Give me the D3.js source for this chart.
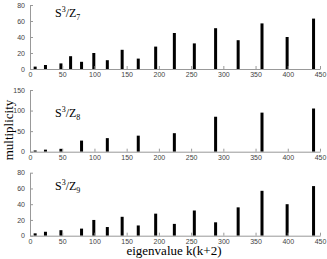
<!DOCTYPE html>
<html>
<head>
<meta charset="utf-8">
<script src="https://cdn.jsdelivr.net/npm/d3@7"></script>
<style>
  html, body { margin: 0; padding: 0; background: #fff; }
  svg { display: block; }
  .tick text { font-family: "Liberation Sans", Arial, sans-serif; font-size: 7px; fill: #444; }
  .domain, .tick line { stroke: #999; stroke-width: 1; }
  .title, .axis-label { font-family: "Liberation Serif", "Times New Roman", serif; fill: #000; }
</style>
</head>
<body>
<svg id="chart" width="327" height="259"></svg>
<script>
// eigenvalues k(k+2) that appear in any panel
const eigen = [8, 24, 48, 63, 80, 99, 120, 143, 168, 195, 224, 255, 288, 323, 360, 399, 440];

// multiplicities per eigenvalue
const multZ7 = [3, 5, 7, 16, 9, 20, 11, 24, 13, 28, 45, 32, 51, 36, 57, 40, 63];
const multZ8 = [3, 5, 7, 0, 27, 0, 33, 0, 39, 0, 45, 0, 85, 0, 95, 0, 105];
const multZ9 = [3, 5, 7, 0, 9, 20, 11, 24, 13, 28, 15, 32, 17, 36, 57, 40, 63];

const xTicks = [0, 50, 100, 150, 200, 250, 300, 350, 400, 450];
const yTicksSmall = [0, 20, 40, 60, 80];
const yTicksBig = [0, 50, 100, 150];

const panels = [
  { n: "7", values: multZ7, ymax: 80, ticks: yTicksSmall, y0: 69, y1: 5, titleY: 17 },
  { n: "8", values: multZ8, ymax: 150, ticks: yTicksBig, y0: 151.7, y1: 90, titleY: 117 },
  { n: "9", values: multZ9, ymax: 80, ticks: yTicksSmall, y0: 235.7, y1: 172.7, titleY: 190 },
];

const svg = d3.select("#chart");
const x = d3.scaleLinear().domain([0, 450]).range([30, 320]);
const barW = 3;

panels.forEach((p) => {
  const y = d3.scaleLinear().domain([0, p.ymax]).range([p.y0, p.y1]);
  const g = svg.append("g");

  // bars first so the axis line sits on top
  g.selectAll("rect")
    .data(eigen.map((e, i) => ({ e, v: p.values[i] })).filter((d) => d.v > 0))
    .join("rect")
    .attr("x", (d) => x(d.e) - barW / 2)
    .attr("y", (d) => y(d.v))
    .attr("width", barW)
    .attr("height", (d) => y(0) - y(d.v))
    .attr("fill", "#000");

  g.append("g")
    .attr("transform", `translate(0,${p.y0})`)
    .call(d3.axisBottom(x).tickValues(xTicks).tickSize(-3).tickSizeOuter(0).tickPadding(3))
    .call((a) => a.selectAll("text").attr("dy", "0.71em"));

  g.append("g")
    .attr("transform", `translate(${x(0)},0)`)
    .call(d3.axisLeft(y).tickValues(p.ticks).tickSize(-3).tickSizeOuter(0).tickPadding(5));

  const t = g.append("text")
    .attr("class", "title")
    .attr("x", 55)
    .attr("y", p.titleY)
    .attr("font-size", 12);
  t.append("tspan").text("S");
  t.append("tspan").attr("font-size", 8).attr("dy", -5).text("3");
  t.append("tspan").attr("dy", 5).text("/Z");
  t.append("tspan").attr("font-size", 8).attr("dy", 3).text(p.n);
});

svg.append("text")
  .attr("class", "axis-label")
  .attr("transform", "translate(13,130) rotate(-90)")
  .attr("text-anchor", "middle")
  .attr("font-size", 13)
  .text("multiplicity");

svg.append("text")
  .attr("class", "axis-label")
  .attr("x", 174)
  .attr("y", 255)
  .attr("text-anchor", "middle")
  .attr("font-size", 13)
  .text("eigenvalue k(k+2)");
</script>
</body>
</html>
